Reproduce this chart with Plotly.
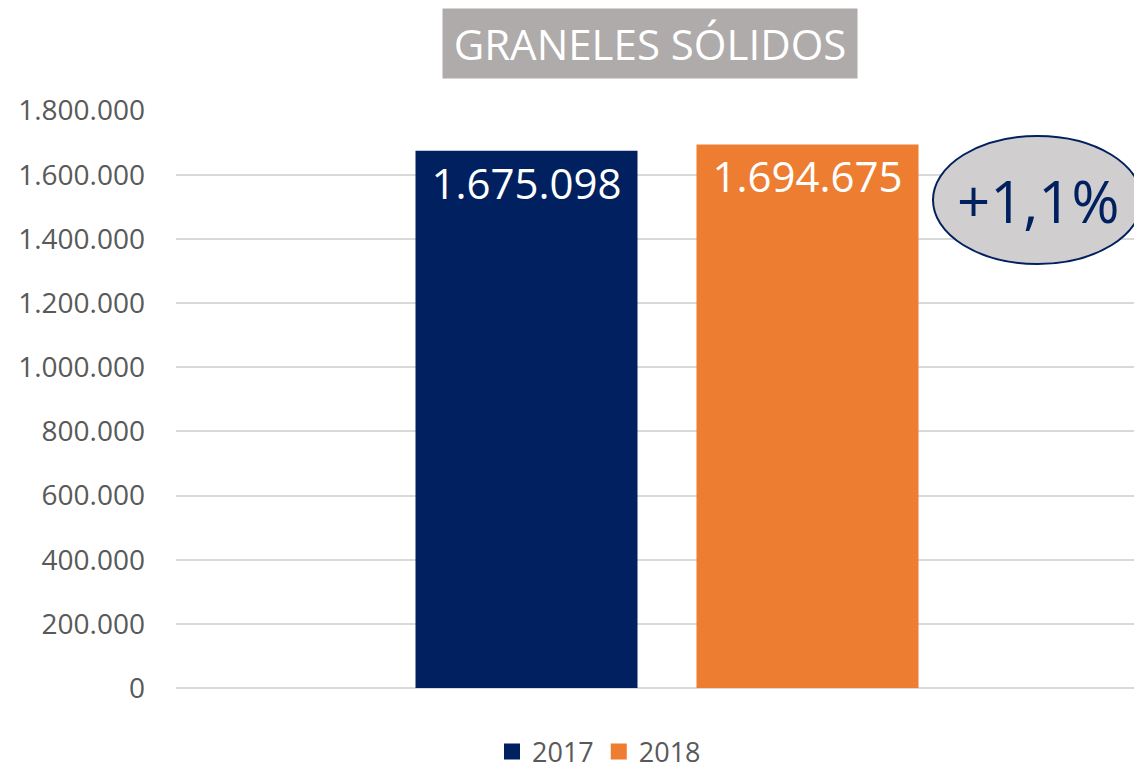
import plotly.graph_objects as go

categories = ["GRANELES SÓLIDOS"]
years = ["2017", "2018"]
values_2017 = [1675098]
values_2018 = [1694675]
bar_labels_2017 = ["1.675.098"]
bar_labels_2018 = ["1.694.675"]
tick_vals = [0, 200000, 400000, 600000, 800000, 1000000, 1200000, 1400000, 1600000, 1800000]
tick_text = ["0", "200.000", "400.000", "600.000", "800.000", "1.000.000",
             "1.200.000", "1.400.000", "1.600.000", "1.800.000"]
change_text = "+1,1%"
title_text = "GRANELES SÓLIDOS"

NAVY = "#002060"
ORANGE = "#ED7D31"
FONT = "Open Sans"
colors = [NAVY, ORANGE]

fig = go.Figure()
for vals, labels, col in [(values_2017, bar_labels_2017, NAVY), (values_2018, bar_labels_2018, ORANGE)]:
    fig.add_trace(go.Bar(
        x=[0], y=vals, showlegend=False, marker=dict(color=col, line=dict(width=0)),
        text=labels, textposition="inside", insidetextanchor="end",
        textfont=dict(color="white", size=42, family=FONT), textangle=0,
    ))
# legend entries
for yr, col in zip(years, colors):
    fig.add_trace(go.Scatter(
        x=[None], y=[None], mode="markers", name=yr,
        marker=dict(symbol="square", size=19, color=col),
    ))

W, H = 1142, 769
OFF = 8  # page body offset
L, R, T, B = 176 - OFF, 0, 110 - OFF, 769 - (688 - OFF)
pw, ph = W - L - R, H - T - B

def px(x):
    return (x - OFF - L) / pw

def py(y):
    return (H - B - (y - OFF)) / ph

center = 667
a = (center - 176) / pw
bar_px, gap_px = 222, 59
slot = bar_px + gap_px

fig.update_layout(
    width=W, height=H,
    margin=dict(l=L, r=R, t=T, b=B, pad=0),
    paper_bgcolor="white", plot_bgcolor="white",
    barmode="group", bargap=1 - 2 * slot / pw, bargroupgap=1 - bar_px / slot,
    font=dict(family=FONT, color="#595959"),
    showlegend=True,
    legend=dict(orientation="h", x=px(599), xanchor="center", y=py(752), yanchor="middle",
                font=dict(size=27, color="#595959", family=FONT), traceorder="normal",
                itemsizing="trace", bgcolor="rgba(0,0,0,0)"),
    xaxis=dict(range=[-a, 1 - a], showticklabels=False, showgrid=False,
               zeroline=False, showline=False, fixedrange=True),
    yaxis=dict(range=[0, 1802000], tickvals=tick_vals, ticktext=tick_text,
               showgrid=True, gridcolor="#D9D9D9", gridwidth=1.5,
               zeroline=True, zerolinecolor="#D9D9D9", zerolinewidth=1.5,
               showline=False, ticks="", ticklabelstandoff=30,
               tickfont=dict(size=28, color="#595959", family=FONT)),
)

fig.add_annotation(
    text=title_text, xref="paper", yref="paper",
    x=px(650), y=py(43.5), xanchor="center", yanchor="middle",
    showarrow=False, bgcolor="#AEABAA", width=412, height=67,
    font=dict(size=42, color="white", family=FONT),
)

fig.add_shape(
    type="circle", xref="paper", yref="paper",
    x0=px(933), x1=px(1142), y0=py(264), y1=py(136),
    fillcolor="#D0CECE", line=dict(color=NAVY, width=2), layer="above",
)
fig.add_annotation(
    text=change_text, xref="paper", yref="paper",
    x=px(1038), y=py(200), xanchor="center", yanchor="middle",
    showarrow=False, font=dict(size=58, color=NAVY, family=FONT),
)

fig.write_html("out.html")
